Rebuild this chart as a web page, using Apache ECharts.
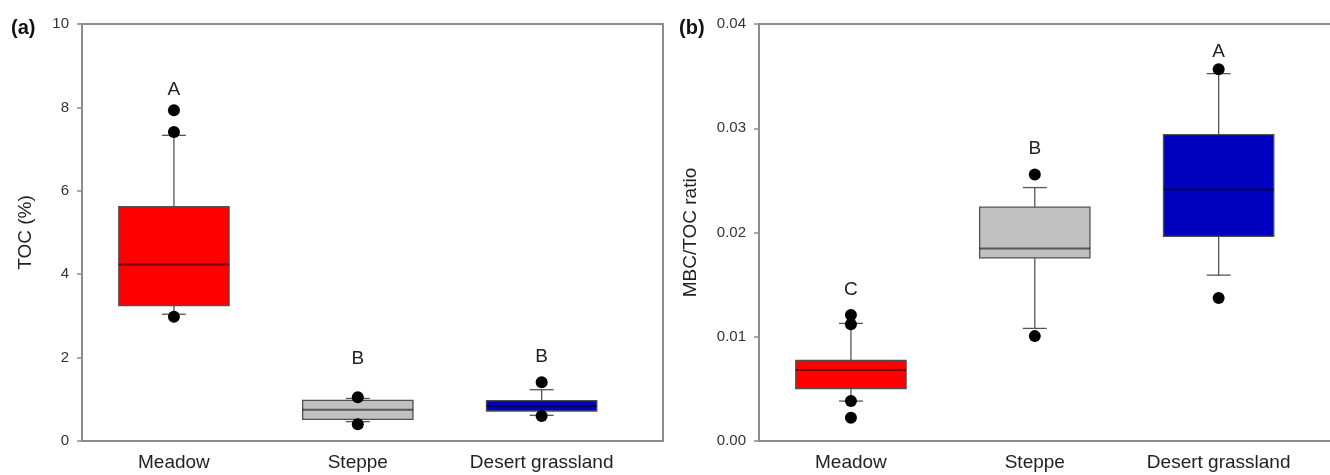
<!DOCTYPE html>
<html>
<head>
<meta charset="utf-8">
<script src="https://cdn.jsdelivr.net/npm/echarts@6/dist/echarts.min.js"></script>
<style>
  html, body { margin: 0; padding: 0; background: #fff; }
  #chart { width: 1330px; height: 475px; }
</style>
</head>
<body>
<div id="chart"></div>
<script>
// categories (x positions 1, 2, 3)
const categories = ["Meadow", "Steppe", "Desert grassland"];

// (a) TOC (%)  box: [lowWhisker, q1, median, q3, highWhisker]
const tocBoxes = [
  [3.04, 3.25, 4.23, 5.62, 7.33],
  [0.465, 0.52, 0.75, 0.975, 1.02],
  [0.616, 0.72, 0.84, 0.968, 1.23]
];
// outliers: [categoryIndex, value]
const tocOutliers = [[0, 7.41], [0, 7.93], [0, 2.98], [1, 1.05], [1, 0.40], [2, 1.41], [2, 0.60]];
const tocLetters = ["A", "B", "B"];
const tocLetterY = [8.43, 1.97, 2.02];

// (b) MBC/TOC ratio
const ratioBoxes = [
  [0.00383, 0.00502, 0.00681, 0.00773, 0.01128],
  [0.0108, 0.01757, 0.01847, 0.02243, 0.02431],
  [0.01591, 0.01962, 0.02412, 0.02939, 0.03524]
];
const ratioOutliers = [[0, 0.0112], [0, 0.01208], [0, 0.00383], [0, 0.00224], [1, 0.02556], [1, 0.01006], [2, 0.03565], [2, 0.01371]];
const ratioLetters = ["C", "B", "A"];
const ratioLetterY = [0.01454, 0.02805, 0.03738];

const boxColors = ["#ff0000", "#c0c0c0", "#0000c0"];
const FONT = "Liberation Sans, Arial, sans-serif";
const AXIS_COLOR = "#8c8c8c";

function renderBox(params, api) {
  const x = api.value(0);
  const low = api.coord([x, api.value(1)]);
  const q1 = api.coord([x, api.value(2)]);
  const med = api.coord([x, api.value(3)]);
  const q3 = api.coord([x, api.value(4)]);
  const high = api.coord([x, api.value(5)]);
  const hb = api.size([0.6, 0])[0] / 2;
  const hc = api.size([0.13, 0])[0] / 2;
  const cx = low[0];
  const wStyle = {stroke: "#555", lineWidth: 1.3};
  return {
    type: "group",
    children: [
      {type: "line", shape: {x1: cx, y1: high[1], x2: cx, y2: q3[1]}, style: wStyle},
      {type: "line", shape: {x1: cx, y1: q1[1], x2: cx, y2: low[1]}, style: wStyle},
      {type: "line", shape: {x1: cx - hc, y1: high[1], x2: cx + hc, y2: high[1]}, style: wStyle},
      {type: "line", shape: {x1: cx - hc, y1: low[1], x2: cx + hc, y2: low[1]}, style: wStyle},
      {type: "rect", shape: {x: cx - hb, y: q3[1], width: hb * 2, height: q1[1] - q3[1]},
        style: {fill: boxColors[params.dataIndex], stroke: "#505050", lineWidth: 1.3}},
      {type: "line", shape: {x1: cx - hb, y1: med[1], x2: cx + hb, y2: med[1]},
        style: {stroke: "rgba(0,0,0,0.55)", lineWidth: 2}}
    ]
  };
}

function boxData(boxes) {
  return boxes.map((b, i) => [i + 1].concat(b));
}
function outlierData(list) {
  return list.map(o => [o[0] + 1, o[1]]);
}
function letterData(letters, ys) {
  return letters.map((l, i) => ({value: [i + 1, ys[i]], name: l}));
}

function xAxis(gridIndex) {
  return {
    type: "value", gridIndex, min: 0.5, max: 3.66,
    axisLine: {show: true, onZero: false, lineStyle: {color: AXIS_COLOR, width: 2}},
    axisTick: {show: false},
    splitLine: {show: false},
    axisLabel: {
      customValues: [1, 2, 3], margin: 12,
      formatter: v => categories[Math.round(v) - 1] || "",
      fontSize: 19, color: "#222", fontFamily: FONT
    }
  };
}
function yAxis(gridIndex, max, interval, name, gap, fmt) {
  return {
    type: "value", gridIndex, min: 0, max, interval,
    name, nameLocation: "middle", nameGap: gap,
    nameTextStyle: {fontSize: 19, color: "#222", fontFamily: FONT},
    axisLine: {show: true, onZero: false, lineStyle: {color: AXIS_COLOR, width: 2}},
    axisTick: {show: true, inside: false, length: 5, lineStyle: {color: AXIS_COLOR, width: 1.5}},
    splitLine: {show: false},
    axisLabel: {margin: 13, fontSize: 15, color: "#333", fontFamily: FONT, formatter: fmt}
  };
}

function seriesFor(idx, boxes, outliers, letters, letterY) {
  return [
    {type: "custom", xAxisIndex: idx, yAxisIndex: idx, renderItem: renderBox,
      data: boxData(boxes), encode: {x: 0, y: [1, 2, 3, 4, 5]}, z: 2},
    {type: "scatter", xAxisIndex: idx, yAxisIndex: idx, symbol: "circle", symbolSize: 12,
      itemStyle: {color: "#000", opacity: 1}, data: outlierData(outliers), z: 3},
    {type: "scatter", xAxisIndex: idx, yAxisIndex: idx, symbolSize: 0,
      itemStyle: {opacity: 1},
      label: {show: true, position: "inside", formatter: p => p.name,
        fontSize: 19, color: "#222", fontFamily: FONT},
      data: letterData(letters, letterY), z: 4}
  ];
}

const chart = echarts.init(document.getElementById("chart"), null, {renderer: "canvas"});
chart.setOption({
  animation: false,
  backgroundColor: "#fff",
  title: [
    {text: "(a)", left: 6, top: 13, textStyle: {fontSize: 20, fontWeight: "bold", color: "#111", fontFamily: FONT}},
    {text: "(b)", left: 674, top: 13, textStyle: {fontSize: 20, fontWeight: "bold", color: "#111", fontFamily: FONT}}
  ],
  grid: [
    {left: 82, top: 24, width: 581, height: 417, outerBoundsMode: "none",
      show: true, borderColor: AXIS_COLOR, borderWidth: 2},
    {left: 759, top: 24, width: 581, height: 417, outerBoundsMode: "none",
      show: true, borderColor: AXIS_COLOR, borderWidth: 2}
  ],
  xAxis: [xAxis(0), xAxis(1)],
  yAxis: [
    yAxis(0, 10, 2, "TOC (%)", 47, v => String(v)),
    yAxis(1, 0.04, 0.01, "MBC/TOC ratio", 59, v => v.toFixed(2))
  ],
  series: [].concat(
    seriesFor(0, tocBoxes, tocOutliers, tocLetters, tocLetterY),
    seriesFor(1, ratioBoxes, ratioOutliers, ratioLetters, ratioLetterY)
  )
});
</script>
</body>
</html>
